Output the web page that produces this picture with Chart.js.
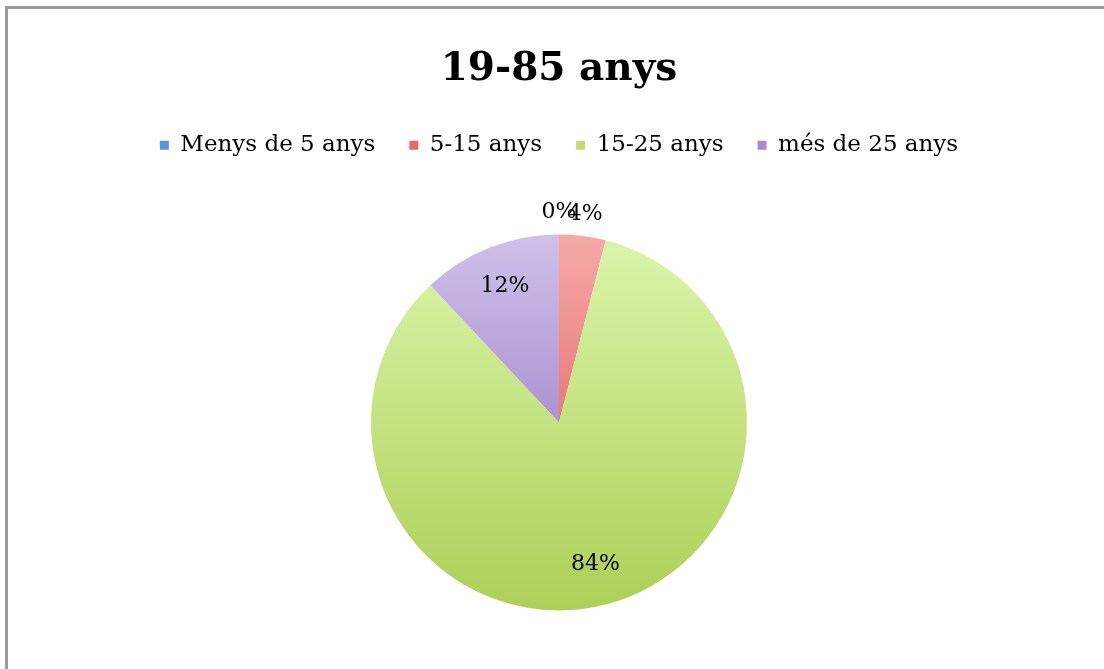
<!DOCTYPE html>
<html>
<head>
<meta charset="utf-8">
<script src="https://cdn.jsdelivr.net/npm/chart.js@4.4.1/dist/chart.umd.min.js"></script>
<style>
  html, body { margin: 0; padding: 0; background: #fff; overflow: hidden; width: 1104px; height: 669px; }
  #wrap { position: absolute; left: 7px; top: 0; width: 1104px; height: 700px; }
  #frame { position: absolute; left: 5px; top: 6px; width: 1200px; height: 800px;
           border-top: 3px solid #9a9a9a; border-left: 3px solid #9a9a9a; pointer-events: none; z-index: 2; }
</style>
</head>
<body>
<div id="frame"></div>
<div id="wrap"><canvas id="c" width="1104" height="700"></canvas></div>
<script>
const titleText = "19-85 anys";
const categories = ["Menys de 5 anys", "5-15 anys", "15-25 anys", "més de 25 anys"];
const values = [0, 4, 84, 12];
const topColors = ["#8db8ec", "#f6aaa8", "#dbf5aa", "#d0c0ea"];
const bottomColors = ["#4a7ec6", "#d84a4a", "#aecf58", "#8a66b8"];
const legendColors = ["#5a94da", "#e76a6a", "#bedc78", "#a58ad0"];

const FONT = "'DejaVu Serif', 'Liberation Serif', serif";
const R = 188;

function sliceFill(ctx) {
  const chart = ctx.chart;
  const i = ctx.dataIndex;
  const area = chart.chartArea;
  if (!area || i === undefined) return legendColors[i || 0];
  const cy = (area.top + area.bottom) / 2;
  const g = chart.ctx.createLinearGradient(0, cy - R, 0, cy + R);
  g.addColorStop(0, topColors[i]);
  g.addColorStop(1, bottomColors[i]);
  return g;
}

const labelPlugin = {
  id: 'pctLabels',
  afterDatasetsDraw(chart) {
    const ctx = chart.ctx;
    const meta = chart.getDatasetMeta(0);
    const data = chart.data.datasets[0].data;
    const total = data.reduce((a, b) => a + b, 0);
    ctx.save();
    ctx.font = "22px " + FONT;
    ctx.fillStyle = "#000";
    ctx.textAlign = "center";
    ctx.textBaseline = "middle";
    meta.data.forEach((arc, i) => {
      const p = arc.getProps(['x', 'y', 'startAngle', 'endAngle', 'outerRadius'], true);
      const mid = (p.startAngle + p.endAngle) / 2;
      const pct = Math.round(data[i] / total * 100);
      const r = pct < 6 ? p.outerRadius + 22 : p.outerRadius * 0.78;
      ctx.fillText(pct + "%", p.x + Math.cos(mid) * r, p.y + Math.sin(mid) * r);
    });
    ctx.restore();
  }
};

new Chart(document.getElementById('c'), {
  type: 'pie',
  data: {
    labels: categories,
    datasets: [{
      data: values,
      backgroundColor: sliceFill,
      borderWidth: 0,
      radius: R
    }]
  },
  options: {
    responsive: false,
    animation: false,
    layout: { padding: { top: 0, bottom: 22, left: 0, right: 0 } },
    plugins: {
      title: {
        display: true,
        text: titleText,
        color: "#000",
        font: { family: FONT, size: 39, weight: 'bold' },
        padding: { top: 46, bottom: 7 }
      },
      legend: {
        position: 'top',
        labels: {
          color: "#000",
          font: { family: FONT, size: 23 },
          boxWidth: 9,
          boxHeight: 9,
          padding: 34,
          generateLabels(chart) {
            const items = Chart.overrides.pie.plugins.legend.labels.generateLabels(chart);
            items.forEach((it, i) => {
              it.fillStyle = legendColors[i];
              it.strokeStyle = legendColors[i];
              it.lineWidth = 0;
            });
            return items;
          }
        }
      },
      tooltip: { enabled: false }
    }
  },
  plugins: [labelPlugin]
});
</script>
</body>
</html>
